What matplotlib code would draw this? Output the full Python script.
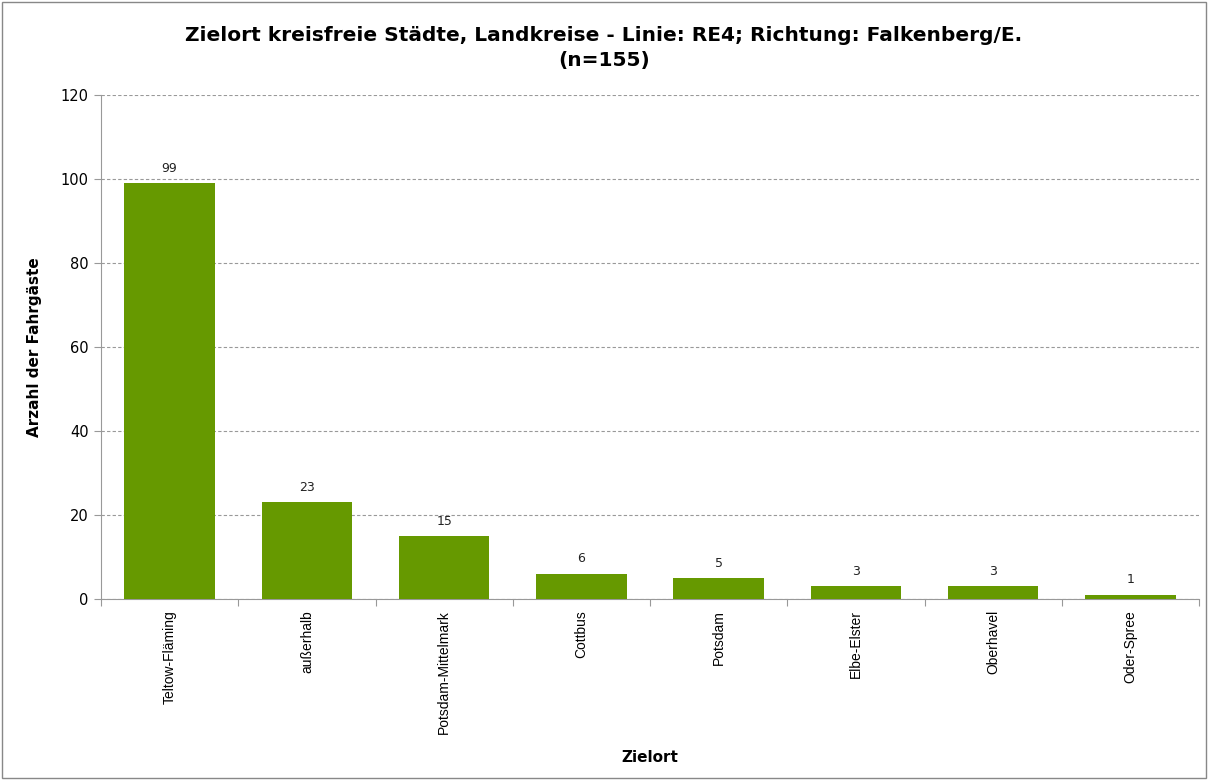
import matplotlib
matplotlib.use("Agg")
import matplotlib.pyplot as plt
from matplotlib.patches import Rectangle

categories = ["Teltow-Fläming", "außerhalb", "Potsdam-Mittelmark", "Cottbus",
              "Potsdam", "Elbe-Elster", "Oberhavel", "Oder-Spree"]
values = [99, 23, 15, 6, 5, 3, 3, 1]
yticks = [0, 20, 40, 60, 80, 100, 120]

plt.rcParams['font.family'] = ['DejaVu Sans']

fig = plt.figure(figsize=(12.08, 7.8), dpi=100)
ax = fig.add_axes([101 / 1208, 0.232, 1098 / 1208, 0.646])

x = list(range(len(categories)))
ax.bar(x, values, width=0.66, color="#669900", zorder=3)
for xi, v in zip(x, values):
    ax.text(xi, v + 2, str(v), ha="center", va="bottom", fontsize=9, color="#222222")

ax.set_xlim(-0.5, len(categories) - 0.5)
ax.set_ylim(0, 120)
ax.set_yticks(yticks)
ax.set_yticklabels([str(t) for t in yticks], fontsize=10.5)
ax.yaxis.grid(True, linestyle=(0, (3, 2)), color="#999999", linewidth=0.8, zorder=0)

ax.set_xticks([i - 0.5 for i in range(len(categories) + 1)], minor=False)
ax.set_xticklabels([])
ax.set_xticks(x, minor=True)
ax.set_xticklabels(categories, minor=True, rotation=90, fontsize=10,
                   family="Liberation Sans", va="top")
ax.tick_params(axis="x", which="minor", length=0, pad=8)
ax.tick_params(axis="x", which="major", length=5, color="#999999", direction="out")
ax.tick_params(axis="y", length=5, color="#999999", direction="out", pad=4)

for s in ["top", "right"]:
    ax.spines[s].set_visible(False)
for s in ["left", "bottom"]:
    ax.spines[s].set_color("#999999")

ax.set_ylabel("Arzahl der Fahrgäste", fontsize=11, fontweight="bold", labelpad=14)
ax.yaxis.set_label_coords(-0.054, 0.5)
ax.set_xlabel("Zielort", fontsize=11, fontweight="bold")
ax.xaxis.set_label_coords(0.5, -0.3)

fig.text(0.5, 0.955, "Zielort kreisfreie Städte, Landkreise - Linie: RE4; Richtung: Falkenberg/E.",
         ha="center", va="center", fontsize=14.5, fontweight="bold")
fig.text(0.5, 0.923, "(n=155)", ha="center", va="center", fontsize=14.5, fontweight="bold")

fig.patches.append(Rectangle((0.002, 0.002), 0.996, 0.996, transform=fig.transFigure,
                             fill=False, edgecolor="#888888", linewidth=1))

fig.savefig("out.png", dpi=100)
